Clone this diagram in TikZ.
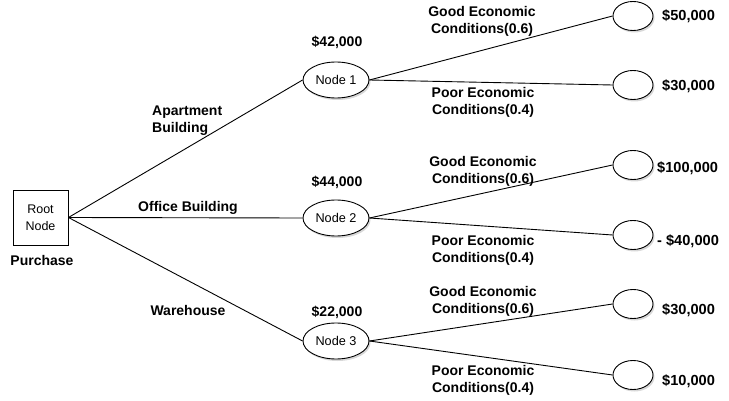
\documentclass[tikz,border=0pt]{standalone}
\usepackage{fontspec}
\setmainfont{Liberation Sans}
\usetikzlibrary{shapes.geometric,shadows}
\begin{document}
\begin{tikzpicture}[x=1pt,y=-1pt,
  conn/.style={draw=black, line width=0.9pt},
  rootbox/.style={rectangle, draw, line width=0.9pt, minimum width=55pt, minimum height=55pt, inner sep=0pt, align=center, font=\fontsize{12.5}{17}\selectfont},
  chance/.style={ellipse, draw, fill=white, line width=0.9pt, minimum width=66pt, minimum height=36pt, inner sep=0pt, font=\fontsize{12.7}{15}\selectfont,
    drop shadow={shadow xshift=1.5pt, shadow yshift=-2pt, fill=black!30}},
  leaf/.style={ellipse, draw, fill=white, line width=0.9pt, minimum width=40pt, minimum height=29pt, inner sep=0pt,
    drop shadow={shadow xshift=1.5pt, shadow yshift=-2pt, fill=black!30}},
  lbl/.style={font=\bfseries\fontsize{14}{17}\selectfont, align=center, inner sep=0pt},
  val/.style={font=\bfseries\fontsize{14.6}{16}\selectfont, inner sep=0pt, anchor=west}
]
\path[use as bounding box] (0,0) rectangle (729,401);

% nodes
\node[rootbox] (root) at (40.5,217.5) {Root\\Node};
\node[chance] (n1) at (336,80) {Node 1};
\node[chance] (n2) at (336,218) {Node 2};
\node[chance] (n3) at (336,341) {Node 3};

\node[leaf] (l1) at (633,16) {};
\node[leaf] (l2) at (633,85) {};
\node[leaf] (l3) at (633,165) {};
\node[leaf] (l4) at (633,235) {};
\node[leaf] (l5) at (633,304) {};
\node[leaf] (l6) at (633,375) {};

% connectors
\draw[conn] (root.east) -- (n1.west);
\draw[conn] (root.east) -- (n2.west);
\draw[conn] (root.east) -- (n3.west);
\draw[conn] (n1.east) -- (l1.west);
\draw[conn] (n1.east) -- (l2.west);
\draw[conn] (n2.east) -- (l3.west);
\draw[conn] (n2.east) -- (l4.west);
\draw[conn] (n3.east) -- (l5.west);
\draw[conn] (n3.east) -- (l6.west);

% labels
\node[lbl] (purchase) at (42,260) {Purchase};
\node[lbl, align=left, anchor=west] (apt) at (152,120.5) {Apartment\\Building};
\node[lbl] (office) at (188,208) {Office Building};
\node[lbl] (ware) at (188,310) {Warehouse};

\node[lbl] (v1) at (337,42) {\$42,000};
\node[lbl] (v2) at (337,182) {\$44,000};
\node[lbl] (v3) at (337,312) {\$22,000};

\node[lbl] (g1) at (482,21) {Good Economic\\Conditions(0.6)};
\node[lbl] (p1) at (483,102) {Poor Economic\\Conditions(0.4)};
\node[lbl] (g2) at (483,171.5) {Good Economic\\Conditions(0.6)};
\node[lbl] (p2) at (483,250) {Poor Economic\\Conditions(0.4)};
\node[lbl] (g3) at (483,301.5) {Good Economic\\Conditions(0.6)};
\node[lbl] (p3) at (483,380) {Poor Economic\\Conditions(0.4)};

\node[val] (t1) at (662,16) {\$50,000};
\node[val] (t2) at (662,86) {\$30,000};
\node[val] (t3) at (657,168) {\$100,000};
\node[val] (t4) at (657,241) {- \$40,000};
\node[val] (t5) at (662,310) {\$30,000};
\node[val] (t6) at (662,381) {\$10,000};
\end{tikzpicture}
\end{document}
